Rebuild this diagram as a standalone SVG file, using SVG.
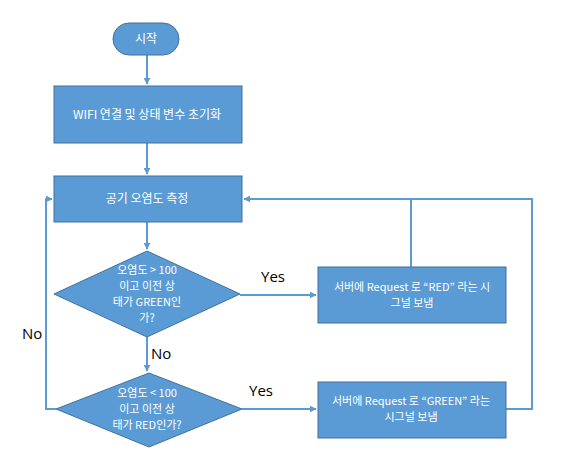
<svg xmlns="http://www.w3.org/2000/svg" width="575" height="472" viewBox="0 0 575 472">
  <style>
    .shape { fill: #5B9BD5; stroke: #41719C; stroke-width: 1; }
    .label { fill: #FFFFFF; font-family: "Noto Sans CJK KR", "Noto Sans", sans-serif; font-size: 12px; text-anchor: middle; }
    .small { font-size: 11px; }
    .edge { fill: none; stroke: #5B9BD5; stroke-width: 2; }
    .branch { fill: #000000; font-family: "Open Sans", "Liberation Sans", sans-serif; font-size: 15px; }
  </style>
  <defs>
    <marker id="arrow" viewBox="0 0 10 10" refX="9" refY="5" markerWidth="3.5" markerHeight="3.5" orient="auto">
      <path d="M0,0 L10,5 L0,10 Z" fill="#5B9BD5"/>
    </marker>
  </defs>
  <rect width="575" height="472" fill="#FFFFFF"/>

  <g id="connectors">
    <path class="edge" d="M147,55 V84" marker-end="url(#arrow)"/>
    <path class="edge" d="M147,143 V174" marker-end="url(#arrow)"/>
    <path class="edge" d="M147,222 V249" marker-end="url(#arrow)"/>
    <path class="edge" d="M147,337 V371" marker-end="url(#arrow)"/>
    <path class="edge" d="M240,295 H316" marker-end="url(#arrow)"/>
    <path class="edge" d="M242,409 H316" marker-end="url(#arrow)"/>
    <path class="edge" d="M56,409 H46 V199 H52" marker-end="url(#arrow)"/>
    <path class="edge" d="M411,267 V199"/>
    <path class="edge" d="M506,409 H532 V199 H244" marker-end="url(#arrow)"/>
    <text class="branch" x="261" y="282">Yes</text>
    <text class="branch" x="249" y="396">Yes</text>
    <text class="branch" x="151" y="359">No</text>
    <text class="branch" x="22" y="339">No</text>
  </g>

  <g id="start">
    <rect class="shape" x="113" y="23" width="66" height="32" rx="16"/>
    <text class="label" x="146" y="43">시작</text>
  </g>

  <g id="init">
    <rect class="shape" x="54" y="86" width="188" height="57"/>
    <text class="label" x="147" y="119">WIFI 연결 및 상태 변수 초기화</text>
  </g>

  <g id="measure">
    <rect class="shape" x="54" y="176" width="188" height="46"/>
    <text class="label" x="147" y="203">공기 오염도 측정</text>
  </g>

  <g id="check-high">
    <polygon class="shape" points="147,251 240,294 147,337 54,294"/>
    <text class="label small" x="147" y="274">오염도 &gt; 100</text>
    <text class="label small" x="147" y="290">이고  이전 상</text>
    <text class="label small" x="147" y="306">태가 GREEN인</text>
    <text class="label small" x="147" y="322">가?</text>
  </g>

  <g id="check-low">
    <polygon class="shape" points="149,373 242,409 149,447 56,409"/>
    <text class="label small" x="147" y="397">오염도 &lt; 100</text>
    <text class="label small" x="147" y="413">이고  이전 상</text>
    <text class="label small" x="147" y="429">태가 RED인가?</text>
  </g>

  <g id="send-red">
    <rect class="shape" x="318" y="267" width="188" height="56"/>
    <text class="label small" x="412" y="291">서버에 Request 로 “RED” 라는 시</text>
    <text class="label small" x="412" y="307">그널 보냄</text>
  </g>

  <g id="send-green">
    <rect class="shape" x="318" y="382" width="188" height="56"/>
    <text class="label small" x="411" y="405">서버에 Request 로 “GREEN” 라는</text>
    <text class="label small" x="411" y="421">시그널 보냄</text>
  </g>
</svg>
